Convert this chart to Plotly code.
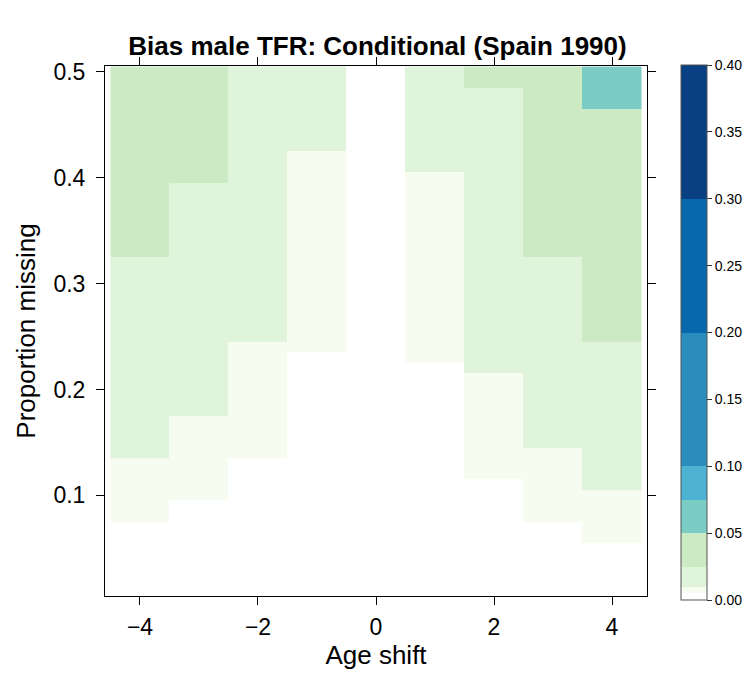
import plotly.graph_objects as go

# Age shift (columns) and proportion missing (rows)
age_shift = [-4, -3, -2, -1, 0, 1, 2, 3, 4]
prop_missing = [round(0.01 * k, 2) for k in range(1, 51)]

# Bias of the male TFR, one row per proportion missing (0.01 ... 0.50),
# one value per age shift (-4 ... 4)
bias = [
    [0.002, 0.002, 0.002, 0.002, 0.000, 0.002, 0.002, 0.002, 0.002],  # 0.01
    [0.002, 0.002, 0.002, 0.002, 0.000, 0.002, 0.002, 0.002, 0.002],  # 0.02
    [0.002, 0.002, 0.002, 0.002, 0.000, 0.002, 0.002, 0.002, 0.002],  # 0.03
    [0.002, 0.002, 0.002, 0.002, 0.000, 0.002, 0.002, 0.002, 0.002],  # 0.04
    [0.002, 0.002, 0.002, 0.002, 0.000, 0.002, 0.002, 0.002, 0.003],  # 0.05
    [0.003, 0.002, 0.002, 0.002, 0.000, 0.002, 0.002, 0.003, 0.007],  # 0.06
    [0.004, 0.002, 0.002, 0.002, 0.000, 0.002, 0.002, 0.004, 0.007],  # 0.07
    [0.007, 0.003, 0.002, 0.002, 0.000, 0.002, 0.002, 0.007, 0.008],  # 0.08
    [0.007, 0.004, 0.002, 0.002, 0.000, 0.002, 0.002, 0.007, 0.008],  # 0.09
    [0.008, 0.007, 0.002, 0.002, 0.000, 0.002, 0.003, 0.008, 0.009],  # 0.10
    [0.008, 0.007, 0.003, 0.002, 0.000, 0.002, 0.004, 0.008, 0.012],  # 0.11
    [0.008, 0.007, 0.003, 0.002, 0.000, 0.002, 0.007, 0.008, 0.013],  # 0.12
    [0.009, 0.008, 0.004, 0.002, 0.000, 0.002, 0.007, 0.009, 0.014],  # 0.13
    [0.011, 0.008, 0.007, 0.002, 0.000, 0.002, 0.007, 0.009, 0.015],  # 0.14
    [0.012, 0.008, 0.007, 0.002, 0.000, 0.002, 0.008, 0.011, 0.016],  # 0.15
    [0.013, 0.009, 0.007, 0.003, 0.000, 0.002, 0.008, 0.012, 0.017],  # 0.16
    [0.013, 0.009, 0.007, 0.003, 0.000, 0.003, 0.008, 0.012, 0.018],  # 0.17
    [0.014, 0.011, 0.008, 0.003, 0.000, 0.003, 0.008, 0.013, 0.018],  # 0.18
    [0.015, 0.011, 0.008, 0.003, 0.000, 0.003, 0.009, 0.014, 0.019],  # 0.19
    [0.015, 0.012, 0.008, 0.004, 0.000, 0.004, 0.009, 0.014, 0.020],  # 0.20
    [0.016, 0.012, 0.008, 0.004, 0.000, 0.004, 0.009, 0.015, 0.021],  # 0.21
    [0.016, 0.013, 0.009, 0.004, 0.000, 0.004, 0.011, 0.015, 0.022],  # 0.22
    [0.017, 0.013, 0.009, 0.004, 0.000, 0.006, 0.011, 0.016, 0.023],  # 0.23
    [0.017, 0.014, 0.009, 0.006, 0.000, 0.006, 0.012, 0.016, 0.024],  # 0.24
    [0.018, 0.014, 0.011, 0.006, 0.000, 0.006, 0.012, 0.017, 0.026],  # 0.25
    [0.018, 0.015, 0.011, 0.006, 0.000, 0.006, 0.012, 0.017, 0.027],  # 0.26
    [0.019, 0.015, 0.011, 0.006, 0.000, 0.007, 0.013, 0.018, 0.028],  # 0.27
    [0.020, 0.016, 0.012, 0.007, 0.000, 0.007, 0.013, 0.019, 0.029],  # 0.28
    [0.021, 0.016, 0.012, 0.007, 0.000, 0.007, 0.014, 0.020, 0.030],  # 0.29
    [0.022, 0.017, 0.012, 0.007, 0.000, 0.007, 0.014, 0.021, 0.031],  # 0.30
    [0.023, 0.017, 0.013, 0.007, 0.000, 0.008, 0.015, 0.022, 0.032],  # 0.31
    [0.024, 0.018, 0.013, 0.008, 0.000, 0.008, 0.015, 0.024, 0.033],  # 0.32
    [0.026, 0.018, 0.014, 0.008, 0.000, 0.008, 0.016, 0.026, 0.034],  # 0.33
    [0.027, 0.019, 0.014, 0.008, 0.000, 0.008, 0.016, 0.027, 0.035],  # 0.34
    [0.028, 0.020, 0.015, 0.008, 0.000, 0.008, 0.017, 0.028, 0.036],  # 0.35
    [0.029, 0.021, 0.015, 0.008, 0.000, 0.009, 0.017, 0.029, 0.037],  # 0.36
    [0.030, 0.022, 0.016, 0.009, 0.000, 0.009, 0.018, 0.030, 0.038],  # 0.37
    [0.031, 0.023, 0.016, 0.009, 0.000, 0.009, 0.019, 0.031, 0.040],  # 0.38
    [0.032, 0.024, 0.017, 0.009, 0.000, 0.009, 0.020, 0.032, 0.041],  # 0.39
    [0.033, 0.026, 0.017, 0.009, 0.000, 0.009, 0.021, 0.033, 0.042],  # 0.40
    [0.034, 0.027, 0.018, 0.009, 0.000, 0.011, 0.021, 0.034, 0.043],  # 0.41
    [0.035, 0.028, 0.019, 0.009, 0.000, 0.011, 0.022, 0.035, 0.044],  # 0.42
    [0.036, 0.029, 0.020, 0.011, 0.000, 0.012, 0.022, 0.036, 0.045],  # 0.43
    [0.037, 0.030, 0.020, 0.011, 0.000, 0.012, 0.023, 0.037, 0.046],  # 0.44
    [0.038, 0.031, 0.021, 0.012, 0.000, 0.013, 0.023, 0.038, 0.047],  # 0.45
    [0.039, 0.032, 0.021, 0.012, 0.000, 0.013, 0.024, 0.039, 0.049],  # 0.46
    [0.040, 0.033, 0.022, 0.013, 0.000, 0.014, 0.024, 0.040, 0.051],  # 0.47
    [0.041, 0.034, 0.022, 0.013, 0.000, 0.014, 0.024, 0.041, 0.053],  # 0.48
    [0.042, 0.035, 0.023, 0.014, 0.000, 0.015, 0.026, 0.042, 0.055],  # 0.49
    [0.043, 0.036, 0.024, 0.014, 0.000, 0.015, 0.027, 0.043, 0.057],  # 0.50
]

# Level breaks of the colour key and the colour of each band
breaks = [0.0, 0.005, 0.01, 0.025, 0.05, 0.075, 0.1, 0.2, 0.3, 0.4]
band_colors = ["#FFFFFF", "#F7FCF0", "#E0F3DB", "#CCEBC5", "#7BCCC4",
               "#4EB3D3", "#2B8CBE", "#0868AC", "#084081"]
key_ticks = [0.0, 0.05, 0.1, 0.15, 0.2, 0.25, 0.3, 0.35, 0.4]

zmax = breaks[-1]
colorscale = []
for i, col in enumerate(band_colors):
    colorscale.append([breaks[i] / zmax, col])
    colorscale.append([breaks[i + 1] / zmax, col])

FONT = "Liberation Sans, Arial, Helvetica"
W, H = 755, 674
ML, MR, MT, MB = 105, 106, 66, 75
plot_w = W - ML - MR
plot_h = H - MT - MB

fig = go.Figure(
    go.Heatmap(
        x=age_shift,
        y=prop_missing,
        z=bias,
        zmin=0,
        zmax=zmax,
        colorscale=colorscale,
        hoverinfo="skip",
        colorbar=dict(
            thickness=26,
            thicknessmode="pixels",
            len=535,
            lenmode="pixels",
            x=1 + (683 - (W - MR)) / plot_w,
            xanchor="left",
            xpad=0,
            y=1 + 1 / plot_h,
            yanchor="top",
            ypad=0,
            outlinecolor="#555555",
            outlinewidth=1,
            tickvals=key_ticks,
            ticktext=[f"{v:.2f}" for v in key_ticks],
            ticks="outside",
            ticklen=5,
            tickwidth=1,
            tickcolor="#333333",
            tickfont=dict(family=FONT, size=14, color="black"),
        ),
    )
)

axis_common = dict(
    showline=True,
    linecolor="black",
    linewidth=1,
    mirror="ticks",
    ticks="outside",
    ticklen=8,
    tickwidth=1,
    tickcolor="black",
    showgrid=False,
    zeroline=False,
    tickfont=dict(family=FONT, size=23, color="black"),
)

fig.update_xaxes(
    **axis_common,
    range=[-4.593, 4.593],
    tickvals=[-4, -2, 0, 2, 4],
    ticktext=["\u22124", "\u22122", "0", "2", "4"],
    ticklabelstandoff=2,
    title=dict(text="Age shift", font=dict(family=FONT, size=26, color="black"), standoff=4),
)
fig.update_yaxes(
    **axis_common,
    range=[0.0049, 0.5056],
    tickvals=[0.1, 0.2, 0.3, 0.4, 0.5],
    ticktext=["0.1", "0.2", "0.3", "0.4", "0.5"],
    ticklabelstandoff=6,
    title=dict(text="Proportion missing", font=dict(family=FONT, size=26, color="black"), standoff=10),
)

fig.update_layout(
    width=W,
    height=H,
    margin=dict(l=ML, r=MR, t=MT, b=MB, pad=0),
    paper_bgcolor="white",
    plot_bgcolor="white",
    title=dict(
        text="<b>Bias male TFR: Conditional (Spain 1990)</b>",
        font=dict(family=FONT, size=26, color="black"),
        x=0.5,
        xanchor="center",
        xref="container",
        y=1 - 46 / H,
        yref="container",
        yanchor="middle",
    ),
)

fig.write_html("out.html")
